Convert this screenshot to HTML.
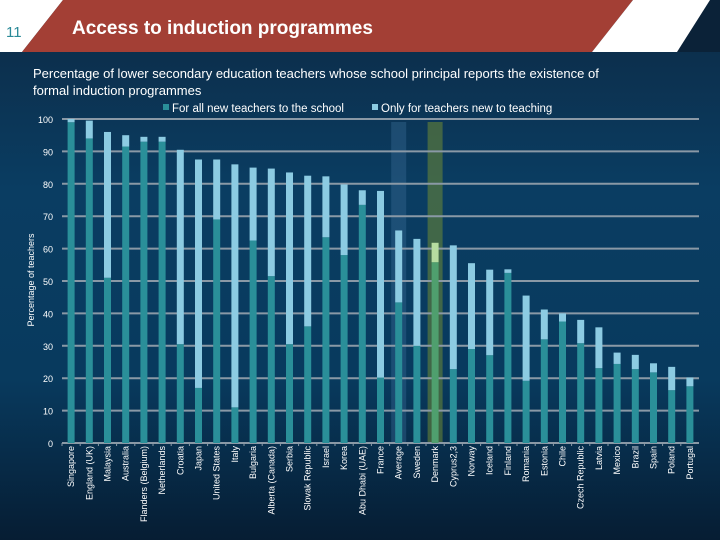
<!DOCTYPE html>
<html><head><meta charset="utf-8"><style>
body{margin:0;width:720px;height:540px;overflow:hidden;font-family:"Liberation Sans",sans-serif;}
#bg{position:absolute;left:0;top:0;width:720px;height:540px;background:linear-gradient(180deg,#0d2a45 0%,#0a3d62 35%,#083a5e 70%,#061d33 100%);}
</style></head><body>
<div id="bg"></div>
<svg id="s" width="720" height="540" style="position:absolute;left:0;top:0">
<rect x="0" y="0" width="720" height="52" fill="#0b2238"/>
<polygon points="0,0 63,0 22,52 0,52" fill="#ffffff"/>
<polygon points="63,0 633,0 592,52 22,52" fill="#a33f35"/>
<polygon points="633,0 710,0 677,52 592,52" fill="#ffffff"/>
<text x="6" y="37" font-size="15" fill="#2b8a98">11</text>
<text x="72" y="34" font-size="19" font-weight="bold" fill="#ffffff">Access to induction programmes</text>
<text x="33" y="78" font-size="13" fill="#ffffff">Percentage of lower secondary education teachers whose school principal reports the existence of</text>
<text x="33" y="95" font-size="13" fill="#ffffff">formal induction programmes</text>
<g>
<rect x="163" y="104" width="6" height="6" fill="#2a8f99"/>
<text x="172" y="112" font-size="11.5" fill="#ffffff">For all new teachers to the school</text>
<rect x="372" y="104" width="6" height="6" fill="#8ccbe2"/>
<text x="381" y="112" font-size="11.5" fill="#ffffff">Only for teachers new to teaching</text>
</g>
<text transform="translate(34,280) rotate(-90)" text-anchor="middle" font-size="9" fill="#ffffff">Percentage of teachers</text>
<g id="plot"></g>
</svg>
<script>
const categories=["Singapore","England (UK)","Malaysia","Australia","Flanders (Belgium)","Netherlands","Croatia","Japan","United States","Italy","Bulgaria","Alberta (Canada)","Serbia","Slovak Republic","Israel","Korea","Abu Dhabi (UAE)","France","Average","Sweden","Denmark","Cyprus2,3","Norway","Iceland","Finland","Romania","Estonia","Chile","Czech Republic","Latvia","Mexico","Brazil","Spain","Poland","Portugal"];
const allNew=[99,94,51,91.5,93,93,30.5,17,69,11,62.5,51.5,30.5,36,63.5,58,73.5,20.2,43.4,30,55.8,22.8,29,27.1,52.5,19.2,32,37.5,30.8,23.1,24.4,22.8,21.8,16.3,17.5];
const totals=[100,99.5,96,95,94.5,94.5,90.5,87.5,87.5,86,85,84.7,83.5,82.5,82.3,79.8,78,77.8,65.6,63,61.8,61,55.5,53.5,53.6,45.5,41.2,40,38,35.7,27.9,27.2,24.6,23.5,20.2];
const yTicks=[0,10,20,30,40,50,60,70,80,90,100];
const NS="http://www.w3.org/2000/svg",g=document.getElementById("plot");
const X0=62,X1=699,Y0=443,Y100=119,bw=(X1-X0)/categories.length;
const yS=v=>Y0-(Y0-Y100)*v/100, xS=i=>X0+bw*(i+0.5);
function el(t,a){const e=document.createElementNS(NS,t);for(const k in a)e.setAttribute(k,a[k]);g.appendChild(e);return e;}
[["Average","#3a6c95",0.4,"highlight-average"],["Denmark","#6f8a35",0.55,"highlight-denmark"]].forEach(h=>{const i=categories.indexOf(h[0]);
const r=el("rect",{x:xS(i)-7.5,y:122,width:15,height:Y0-122,fill:h[1],opacity:h[2]});

});
yTicks.forEach(t=>{const y=yS(t);
if(t>0){const l=el("line",{x1:X0,x2:X1,y1:y,y2:y,stroke:"#8a99a6","stroke-width":2});

}
const tx=el("text",{x:53,y:y+4,"text-anchor":"end","font-size":9,fill:"#fff"});tx.textContent=t;

});
const ax=el("line",{x1:X0,x2:X1,y1:Y0,y2:Y0,stroke:"#8a99a6","stroke-width":2});


categories.forEach((c,i)=>{const cx=xS(i),w=7,dk=c==="Denmark";
const b=el("rect",{x:cx-w/2,y:yS(allNew[i]),width:w,height:Y0-yS(allNew[i]),fill:dk?"#4f9f6e":"#2a8f99"});


const b2=el("rect",{x:cx-w/2,y:yS(totals[i]),width:w,height:yS(allNew[i])-yS(totals[i]),fill:dk?"#b6dca0":"#8ccbe2"});


const tk=el("line",{x1:X0+bw*i,x2:X0+bw*i,y1:Y0,y2:Y0+3,stroke:"#8a99a6"});


const t=el("text",{transform:`translate(${cx+3},446) rotate(-90)`,"text-anchor":"end","font-size":9,fill:"#fff"});t.textContent=c;

});
</script>
</body></html>
